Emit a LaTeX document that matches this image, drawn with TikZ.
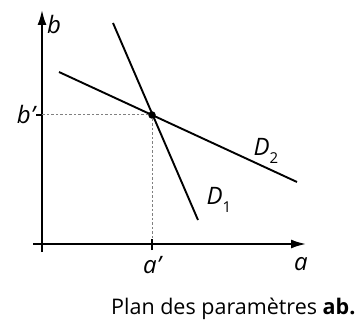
\documentclass[tikz,border=0pt]{standalone}
\usepackage{fontspec}
\setmainfont{Open Sans}
\usepackage{tikz}
\usetikzlibrary{positioning,arrows.meta}

\newcommand{\lowidx}[1]{\raisebox{-0.3em}{\fontsize{15}{15}\selectfont\upshape #1}}

\tikzset{
  axis/.style={line width=2pt, -{Latex[length=15pt,width=9pt]}},
  droite/.style={line width=1.9pt},
  guide/.style={line width=1pt, gray, dash pattern=on 2.5pt off 2pt},
  lbl/.style={inner sep=0pt, font=\fontsize{24}{24}\selectfont\itshape}
}

\begin{document}
\begin{tikzpicture}[x=1pt, y=-1pt]
    \useasboundingbox (0,0) rectangle (363,320);

    % axes
    \coordinate (o) at (42,244);
    \coordinate (ybot) at (42,252);
    \coordinate (ytop) at (42,10);
    \coordinate (xleft) at (33,244);
    \coordinate (xright) at (306,244);
    \draw[axis] (ybot) -- (ytop);
    \draw[axis] (xleft) -- (xright);

    % the two lines
    \coordinate (d1a) at (113,23);
    \coordinate (d1b) at (198,220);
    \coordinate (d2a) at (59,72);
    \coordinate (d2b) at (297,182);
    \draw[droite] (d1a) -- (d1b);
    \draw[droite] (d2a) -- (d2b);

    % solution point
    \node[circle, fill, inner sep=0pt, minimum size=7.5pt] (p) at (152,115) {};
    \coordinate (pa) at (152,244);
    \coordinate (pb) at (42,115);
    \draw[guide] (p) -- (pa);
    \draw[guide] (p) -- (pb);

    % ticks
    \coordinate (tb) at (36,115);
    \coordinate (ta) at (152,250);
    \draw[line width=1.2pt] (pb) -- (tb);
    \draw[line width=1.2pt] (ta) -- (152,239);

    % labels
    \node[lbl, right=5pt of ytop, yshift=-15pt] (lb) {b};
    \node[lbl, left=1pt of tb] (lbp) {b’};
    \node[lbl, below=6pt of ta] (lap) {a’};
    \node[lbl] (la) at (301,264) {a};
    \node[lbl] (ld2) at (266,151) {D\lowidx{2}};
    \node[lbl] (ld1) at (219,200) {D\lowidx{1}};

    \node[anchor=base west, inner sep=0pt, font=\fontsize{21.5}{21.5}\selectfont] (cap)
      at (111,314) {Plan des paramètres \textbf{ab.}};
\end{tikzpicture}
\end{document}
